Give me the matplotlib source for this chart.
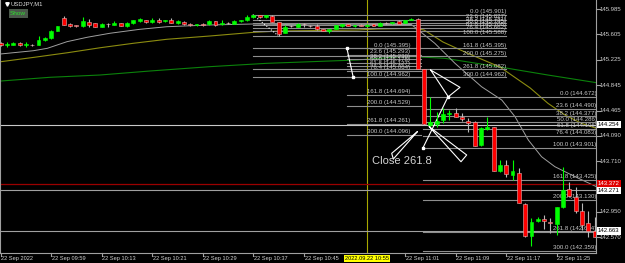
import numpy as np
import matplotlib.pyplot as plt
from matplotlib.transforms import blended_transform_factory

plt.rcParams['font.family'] = ['Liberation Sans', 'DejaVu Sans']

# USDJPY M1, 22 Sep 2022 - one row per bar (index 0..94)
opens = [145.481, 145.446, 145.446, 145.481, 145.442, 145.447, 145.451, 145.517, 145.547, 145.661,
         145.846, 145.761, 145.746, 145.731, 145.796, 145.771, 145.720, 145.761, 145.750, 145.771,
         145.735, 145.771, 145.801, 145.821, 145.791, 145.821, 145.801, 145.821, 145.771, 145.796,
         145.765, 145.741, 145.755, 145.761, 145.801, 145.756, 145.772, 145.761, 145.806, 145.821,
         145.861, 145.895, 145.861, 145.880, 145.791, 145.631, 145.730, 145.720, 145.757, 145.737,
         145.731, 145.681, 145.661, 145.690, 145.726, 145.761, 145.731, 145.750, 145.731, 145.756,
         145.731, 145.781, 145.771, 145.801, 145.780, 145.826, 145.831, 145.083, 144.255, 144.264,
         144.324, 144.418, 144.424, 144.373, 144.313, 144.298, 143.949, 144.184, 144.214, 143.565,
         143.655, 143.505, 143.526, 143.066, 142.587, 142.816, 142.846, 142.801, 142.767, 143.026,
         143.286, 143.176, 142.966, 142.777, 142.666]
highs = [145.491, 145.487, 145.487, 145.487, 145.487, 145.461, 145.581, 145.566, 145.671, 145.738,
         145.880, 145.771, 145.753, 145.861, 145.831, 145.783, 145.776, 145.780, 145.810, 145.780,
         145.796, 145.828, 145.846, 145.828, 145.855, 145.851, 145.828, 145.846, 145.821, 145.806,
         145.776, 145.768, 145.771, 145.821, 145.813, 145.821, 145.786, 145.816, 145.828, 145.900,
         145.901, 145.901, 145.895, 145.898, 145.796, 145.746, 145.741, 145.771, 145.780, 145.746,
         145.761, 145.686, 145.686, 145.746, 145.768, 145.765, 145.753, 145.756, 145.756, 145.761,
         145.786, 145.791, 145.795, 145.821, 145.828, 145.851, 145.851, 145.087, 144.672, 144.448,
         144.499, 144.473, 144.499, 144.433, 144.349, 144.313, 144.223, 144.364, 144.223, 143.725,
         143.725, 143.725, 143.600, 143.081, 142.857, 142.876, 142.901, 142.852, 143.026, 143.625,
         143.400, 143.325, 143.077, 142.966, 142.876]
lows = [145.424, 145.421, 145.442, 145.436, 145.421, 145.431, 145.446, 145.506, 145.541, 145.656,
        145.746, 145.723, 145.723, 145.720, 145.720, 145.716, 145.716, 145.720, 145.746, 145.731,
        145.720, 145.765, 145.791, 145.783, 145.780, 145.771, 145.795, 145.771, 145.756, 145.746,
        145.736, 145.736, 145.731, 145.753, 145.738, 145.741, 145.756, 145.756, 145.798, 145.810,
        145.856, 145.856, 145.856, 145.791, 145.588, 145.620, 145.716, 145.716, 145.720, 145.723,
        145.676, 145.656, 145.621, 145.686, 145.721, 145.726, 145.723, 145.726, 145.726, 145.726,
        145.726, 145.768, 145.765, 145.756, 145.776, 145.821, 145.080, 144.254, 144.224, 144.224,
        144.274, 144.324, 144.364, 144.313, 144.148, 143.934, 143.934, 144.181, 143.560, 143.550,
        143.475, 143.425, 143.077, 142.577, 142.437, 142.801, 142.687, 142.637, 142.602, 143.006,
        143.171, 142.927, 142.677, 142.577, 142.572]
closes = [145.442, 145.461, 145.481, 145.442, 145.466, 145.445, 145.521, 145.556, 145.661, 145.731,
          145.750, 145.735, 145.731, 145.806, 145.750, 145.720, 145.765, 145.760, 145.780, 145.735,
          145.771, 145.821, 145.831, 145.791, 145.821, 145.791, 145.821, 145.780, 145.801, 145.756,
          145.741, 145.761, 145.748, 145.810, 145.746, 145.780, 145.770, 145.810, 145.821, 145.870,
          145.893, 145.861, 145.890, 145.796, 145.610, 145.720, 145.725, 145.761, 145.755, 145.735,
          145.681, 145.661, 145.681, 145.741, 145.761, 145.731, 145.746, 145.731, 145.750, 145.731,
          145.780, 145.779, 145.786, 145.761, 145.821, 145.836, 145.087, 144.262, 144.294, 144.314,
          144.414, 144.428, 144.373, 144.334, 144.283, 143.939, 144.199, 144.223, 143.565, 143.645,
          143.515, 143.556, 143.086, 142.587, 142.797, 142.846, 142.812, 142.777, 143.017, 143.276,
          143.186, 142.957, 142.747, 142.666, 142.577]

# moving averages (bar position, price)
ma_gray_x = [0, 5.2, 7.4, 10.5, 13.7, 17.3, 22, 26.3, 33.1, 40, 50, 60, 65, 66.1, 68.7, 71.9,
             76.1, 79.3, 81.4, 83.5, 85.6, 87.7, 90.9, 94.3]
ma_gray = [145.312, 145.361, 145.397, 145.496, 145.562, 145.622, 145.681, 145.720, 145.746,
           145.761, 145.746, 145.753, 145.753, 145.671, 145.472, 145.172, 144.822, 144.623,
           144.373, 144.024, 143.774, 143.625, 143.475, 143.325]
ma_olive_x = [0, 5.3, 10.6, 15.8, 21, 26.3, 33.1, 40, 44.2, 56.4, 59.6, 65.3, 67, 70, 73.8, 79,
              83.8, 86.6, 89.3, 91.9, 94.3]
ma_olive = [145.196, 145.262, 145.331, 145.406, 145.472, 145.532, 145.581, 145.636, 145.656,
            145.671, 145.686, 145.696, 145.671, 145.491, 145.327, 145.117, 144.803, 144.574,
            144.399, 144.274, 144.199]
ma_green_x = [0, 7.8, 15.7, 23.6, 33.1, 42.1, 56.4, 63.2, 65.6, 70.3, 78.7, 86.6, 94.3]
ma_green = [144.907, 144.963, 144.997, 145.057, 145.122, 145.172, 145.222, 145.271, 145.271,
            145.247, 145.122, 144.997, 144.882]

fib_levels = [0.0, 23.6, 38.2, 50.0, 61.8, 76.4, 100.0, 161.8, 200.0, 261.8, 300.0]
# (price at 0, price at 100, first bar, last bar, label end bar, anchor bars)
fibs = [
    (145.901, 145.588, 39.9, 80.0, 80.0, (39.9, 43.9)),
    (145.395, 144.962, 54.8, 66.5, 64.8, (54.8, 55.8)),
    (144.672, 143.901, 66.8, 94.3, 94.3, (70.8, 66.8)),
]

hlines = [144.254, 143.271, 142.663]
alert_line = 143.372
vline_bar = 58

triangles = [
    [(68.05, 145.072), (72.69, 144.813), (70.84, 144.672)],
    [(67.83, 144.223), (73.75, 143.800), (72.85, 143.699)],
    [(65.93, 144.148), (61.88, 143.825), (62.14, 143.740)],
]

price_ticks = [145.985, 145.605, 145.225, 144.845, 144.465, 144.090, 143.710, 142.950, 142.570]
price_tick_labels = ['145.985', '145.605', '145.225', '144.845', '144.465', '144.090',
                     '143.710', '142.950', '142.570']
time_ticks = [0, 8, 16, 24, 32, 40, 48, 64, 72, 80, 88]
time_labels = ['22 Sep 2022', '22 Sep 09:59', '22 Sep 10:13', '22 Sep 10:21', '22 Sep 10:29',
               '22 Sep 10:37', '22 Sep 10:45', '22 Sep 11:01', '22 Sep 11:09', '22 Sep 11:17',
               '22 Sep 11:25']

fig = plt.figure(figsize=(6.25, 2.63), dpi=100, facecolor='black')
ax = fig.add_axes([0, 10 / 263, 596 / 625, 253 / 263])
ax.set_facecolor('black')
ax.set_xlim(-0.095, 94.21)
ax.set_ylim(142.333, 146.12)
for s in ['top']:
    ax.spines[s].set_visible(False)
for s in ['left', 'right', 'bottom']:
    ax.spines[s].set_color('#a0a0a0')
    ax.spines[s].set_linewidth(0.8)
ax.set_xticks([])
ax.set_yticks([])

xdata_yax = blended_transform_factory(ax.transData, ax.transAxes)
xax_ydata = blended_transform_factory(ax.transAxes, ax.transData)

# moving averages
ax.plot(ma_green_x, ma_green, color='#0b820b', lw=0.8, zorder=1)
ax.plot(ma_olive_x, ma_olive, color='#8c8c10', lw=0.8, zorder=1)
ax.plot(ma_gray_x, ma_gray, color='#a0a0a0', lw=0.7, zorder=1)

# horizontal / vertical lines
ax.axvline(vline_bar, color='#a8a800', lw=0.8, zorder=1)
ax.axhline(alert_line, color='#9a0000', lw=0.9, zorder=1)
ax.axhline(hlines[0], color='#c8c8c8', lw=0.8, zorder=1)
for h in hlines[1:]:
    ax.axhline(h, color='#a0a0a0', lw=0.8, zorder=1)

# fibonacci objects
for p0, p100, xa, xb, xl, anchors in fibs:
    for lv in fib_levels:
        p = p0 + (p100 - p0) * lv / 100
        ax.plot([xa, xb], [p, p], color='#8e8e8e', lw=0.8, zorder=2)
        ax.text(xl, p + 0.012, '%.1f (%.3f)' % (lv, p), color='#c8c8c8', fontsize=4.4,
                ha='right', va='bottom', zorder=3, clip_on=True)
ax.plot(fibs[0][5], [fibs[0][0], fibs[0][1]], color='white', lw=0.8, ls=':', zorder=4)
ax.plot(fibs[1][5], [fibs[1][0], fibs[1][1]], color='white', lw=0.8, zorder=4,
        marker='s', ms=1.5)
ax.plot(fibs[2][5], [fibs[2][0], fibs[2][1]], color='white', lw=0.8, zorder=4,
        marker='s', ms=1.5)

# candles
x = np.arange(len(opens))
o = np.array(opens)
h = np.array(highs)
l = np.array(lows)
c = np.array(closes)
up = c > o
dn = ~up
lo = np.minimum(o, c)
hh = np.abs(c - o)
ax.vlines(x[up], l[up], h[up], color='#00ff00', lw=0.8, zorder=5)
ax.vlines(x[dn], l[dn], h[dn], color='#b8b8b8', lw=0.8, zorder=5)
ax.bar(x[up], hh[up], 0.62, lo[up], color='#00ff00', edgecolor='#00ff00', lw=0.4, zorder=6)
ax.bar(x[dn], hh[dn], 0.62, lo[dn], color='#ff0000', edgecolor='#e8b0b0', lw=0.4, zorder=6)

# drawn triangles
for tri in triangles:
    tx = [p[0] for p in tri] + [tri[0][0]]
    ty = [p[1] for p in tri] + [tri[0][1]]
    ax.plot(tx, ty, color='white', lw=0.8, zorder=7)

ax.text(58.8, 143.710, 'Close 261.8', color='#d4d4d4', fontsize=8, ha='left', va='center',
        zorder=8)

# header
ax.plot([0.011], [0.985], marker='v', color='white', ms=2.5, transform=ax.transAxes,
        clip_on=False)
ax.text(0.018, 0.985, 'USDJPY,M1', color='#e0e0e0', fontsize=4.2, ha='left', va='center',
        transform=ax.transAxes)
ax.text(0.017, 0.947, 'Show', color='#2fe02f', fontsize=4.6, ha='left', va='center',
        transform=ax.transAxes,
        bbox=dict(boxstyle='square,pad=0.25', fc='#4a584a', ec='none'))

# right price scale
for p, t in zip(price_ticks, price_tick_labels):
    ax.plot([1.0, 1.006], [p, p], color='#a0a0a0', lw=0.8, transform=xax_ydata, clip_on=False)
    ax.text(1.006, p, t, color='#d0d0d0', fontsize=4.3, ha='left', va='center',
            transform=xax_ydata, clip_on=False)
for p in hlines:
    ax.text(1.003, p, '%.3f' % p, color='black', fontsize=4.3, ha='left', va='center',
            transform=xax_ydata, clip_on=False,
            bbox=dict(boxstyle='square,pad=0.2', fc='white', ec='none'))
ax.text(1.003, alert_line, '%.3f' % alert_line, color='white', fontsize=4.3, ha='left',
        va='center', transform=xax_ydata, clip_on=False,
        bbox=dict(boxstyle='square,pad=0.2', fc='#e00000', ec='none'))

# time scale
for b, t in zip(time_ticks, time_labels):
    ax.plot([b, b], [0, -0.012], color='#a0a0a0', lw=0.8, transform=xdata_yax, clip_on=False)
    ax.text(b + 0.1, -0.012, t, color='#d0d0d0', fontsize=4.1, ha='left', va='top',
            transform=xdata_yax, clip_on=False)
ax.text(vline_bar, -0.012, '2022.09.22 10:55', color='black', fontsize=4.1, ha='center',
        va='top', transform=xdata_yax, clip_on=False,
        bbox=dict(boxstyle='square,pad=0.15', fc='#ffff00', ec='none'))

fig.savefig('out.png', dpi=100, facecolor='black')
